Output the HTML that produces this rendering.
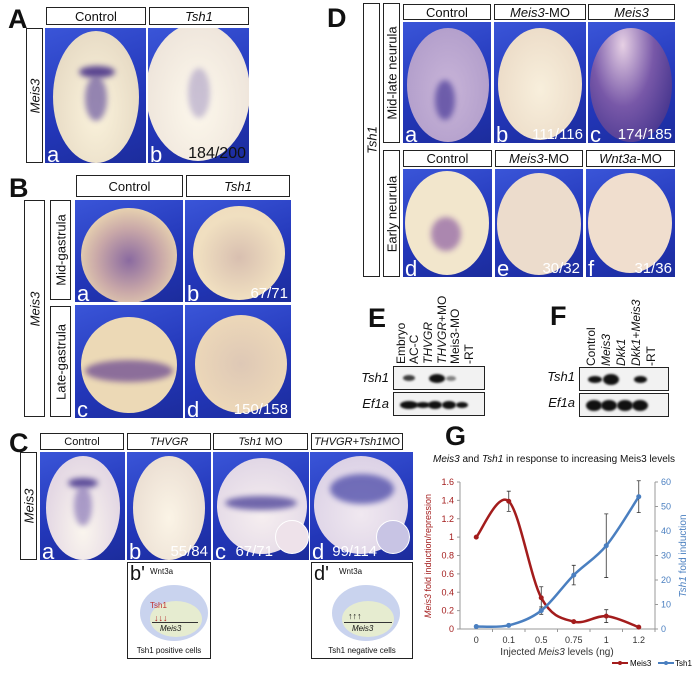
<!DOCTYPE html>
<html><head><meta charset="utf-8">
<style>
*{margin:0;padding:0;box-sizing:border-box}
body{width:692px;height:676px;background:#fff;position:relative;overflow:hidden;font-family:"Liberation Sans","DejaVu Sans",sans-serif;color:#111}
.abs{position:absolute}
.L{position:absolute;font-weight:bold;font-size:27px;line-height:1;font-family:"Liberation Sans",sans-serif}
.hd{position:absolute;border:1.5px solid #222;background:#fff;text-align:center;font-size:13px;display:flex;align-items:center;justify-content:center}
.vb{position:absolute;border:1.5px solid #222;background:#fff}
.vb span{position:absolute;left:50%;top:50%;transform:translate(-50%,-50%) rotate(-90deg);white-space:nowrap;font-size:13px}
.ph{position:absolute;overflow:hidden;background:linear-gradient(160deg,#3a55d8,#2236b8 60%,#1c2c9c)}
.emb{position:absolute;border-radius:50%}
.st{position:absolute;border-radius:50%;filter:blur(3px)}
.lt{position:absolute;left:2px;bottom:-3px;color:#fff;font-size:22px;line-height:1}
.ct{position:absolute;right:3px;bottom:1px;color:#fff;font-size:15px;line-height:1}
.gel{position:absolute;border:1.5px solid #222;background:#f2f2f2}
.band{position:absolute;border-radius:50%;background:#111;filter:blur(1px)}
.rl{position:absolute;transform-origin:left bottom;transform:rotate(-90deg);white-space:nowrap;font-size:12px}
.rt{position:absolute;text-align:right;font-size:13px;width:40px}
i{font-style:italic}
</style></head><body>

<!-- Panel A -->
<div class="L" style="left:8px;top:6px">A</div>
<div class="hd" style="left:46px;top:7px;width:100px;height:18px">Control</div>
<div class="hd" style="left:149px;top:7px;width:100px;height:18px"><i>Tsh1</i></div>
<div class="vb" style="left:26px;top:28px;width:17px;height:135px"><span><i>Meis3</i></span></div>
<div class="ph" style="left:45px;top:28px;width:101px;height:135px">
 <div class="emb" style="left:8px;top:3px;width:86px;height:132px;background:radial-gradient(ellipse at 50% 60%,#fbf3dc,#e8dcc6 70%,#cfc3c8)"></div>
 <div class="st" style="left:34px;top:38px;width:36px;height:12px;background:#5a4590"></div>
 <div class="st" style="left:40px;top:48px;width:22px;height:45px;background:#6b58a0;opacity:.7"></div>
 <div class="lt">a</div></div>
<div class="ph" style="left:148px;top:28px;width:101px;height:135px">
 <div class="emb" style="left:-2px;top:-5px;width:104px;height:138px;background:radial-gradient(ellipse at 50% 60%,#fdf8ec,#efe6dc 70%,#d6cfd8)"></div>
 <div class="st" style="left:40px;top:40px;width:22px;height:50px;background:#a89cc4;opacity:.6"></div>
 <div class="lt">b</div><div class="ct" style="color:#111;font-size:16px">184/200</div></div>

<!-- Panel B -->
<div class="L" style="left:9px;top:175px">B</div>
<div class="hd" style="left:76px;top:175px;width:107px;height:22px">Control</div>
<div class="hd" style="left:186px;top:175px;width:104px;height:22px"><i>Tsh1</i></div>
<div class="vb" style="left:24px;top:200px;width:21px;height:217px"><span><i>Meis3</i></span></div>
<div class="vb" style="left:50px;top:200px;width:21px;height:100px"><span>Mid-gastrula</span></div>
<div class="vb" style="left:50px;top:306px;width:21px;height:111px"><span>Late-gastrula</span></div>
<div class="ph" style="left:75px;top:200px;width:108px;height:102px">
 <div class="emb" style="left:6px;top:8px;width:96px;height:95px;background:radial-gradient(circle at 50% 55%,#8a6aa0,#c9a8a8 45%,#e8d3b0 75%)"></div>
 <div class="lt">a</div></div>
<div class="ph" style="left:185px;top:200px;width:106px;height:102px">
 <div class="emb" style="left:8px;top:6px;width:92px;height:94px;background:radial-gradient(circle at 50% 55%,#d8bfb0,#f0dfc0 60%,#eedcbc)"></div>
 <div class="lt">b</div><div class="ct">67/71</div></div>
<div class="ph" style="left:75px;top:305px;width:108px;height:113px">
 <div class="emb" style="left:6px;top:12px;width:96px;height:96px;background:#ecd9b6"></div>
 <div class="st" style="left:10px;top:55px;width:88px;height:22px;background:#7c5c96;opacity:.85"></div>
 <div class="lt">c</div></div>
<div class="ph" style="left:185px;top:305px;width:106px;height:113px">
 <div class="emb" style="left:10px;top:10px;width:92px;height:98px;background:radial-gradient(circle at 50% 50%,#dec8b6,#ecd7b8 70%)"></div>
 <div class="lt">d</div><div class="ct">150/158</div></div>

<!-- Panel C -->
<div class="L" style="left:9px;top:430px">C</div>
<div class="hd" style="left:40px;top:433px;width:84px;height:17px;font-size:11px">Control</div>
<div class="hd" style="left:127px;top:433px;width:84px;height:17px;font-size:11px"><i>THVGR</i></div>
<div class="hd" style="left:213px;top:433px;width:95px;height:17px;font-size:11px"><i>Tsh1</i>&nbsp;MO</div>
<div class="hd" style="left:311px;top:433px;width:92px;height:17px;font-size:11px"><i>THVGR+Tsh1</i>MO</div>
<div class="vb" style="left:20px;top:452px;width:17px;height:108px"><span><i>Meis3</i></span></div>
<div class="ph" style="left:40px;top:452px;width:85px;height:108px">
 <div class="emb" style="left:6px;top:4px;width:74px;height:104px;background:radial-gradient(ellipse at 50% 70%,#fbf6ee,#e4d8e4 70%)"></div>
 <div class="st" style="left:28px;top:26px;width:30px;height:10px;background:#5a4a98"></div>
 <div class="st" style="left:34px;top:34px;width:18px;height:40px;background:#8a78b8;opacity:.7"></div>
 <div class="lt">a</div></div>
<div class="ph" style="left:127px;top:452px;width:84px;height:108px">
 <div class="emb" style="left:6px;top:4px;width:72px;height:104px;background:radial-gradient(ellipse at 50% 60%,#fbf4e6,#ece0d4 70%)"></div>
 <div class="lt">b</div><div class="ct">55/84</div></div>
<div class="ph" style="left:213px;top:452px;width:96px;height:108px">
 <div class="emb" style="left:4px;top:6px;width:90px;height:96px;background:radial-gradient(circle at 50% 60%,#f6eef0,#e2d8e6 75%)"></div>
 <div class="st" style="left:12px;top:44px;width:72px;height:14px;background:#5a50a0;opacity:.85"></div>
 <div class="emb" style="left:62px;top:68px;width:34px;height:34px;background:#eee2ea;border:1px solid #fff"></div>
 <div class="lt">c</div><div class="ct" style="right:36px">67/71</div></div>
<div class="ph" style="left:310px;top:452px;width:103px;height:108px">
 <div class="emb" style="left:4px;top:4px;width:94px;height:98px;background:radial-gradient(circle at 50% 60%,#f0e8f0,#dcd2e6 75%)"></div>
 <div class="st" style="left:20px;top:22px;width:64px;height:30px;background:#4a48a8;opacity:.75"></div>
 <div class="emb" style="left:66px;top:68px;width:34px;height:34px;background:#c8c4e4;border:1px solid #fff"></div>
 <div class="lt">d</div><div class="ct" style="right:36px">99/114</div></div>

<div class="abs" style="left:127px;top:562px;width:84px;height:97px;border:1.5px solid #222">
 <div class="abs" style="left:2px;top:0;font-size:20px">b'</div>
 <div class="abs" style="left:22px;top:4px;font-size:8px">Wnt3a</div>
 <div class="emb" style="left:12px;top:22px;width:68px;height:56px;background:#c9d3ee"></div>
 <div class="emb" style="left:22px;top:38px;width:52px;height:36px;background:#e6ecd0"></div>
 <div class="abs" style="left:22px;top:38px;font-size:8px;color:#c03030">Tsh1</div>
 <div class="abs" style="left:26px;top:50px;font-size:9px;color:#b02020">↓↓↓</div>
 <div class="abs" style="left:24px;top:59px;width:46px;height:1px;background:#333"></div>
 <div class="abs" style="left:32px;top:61px;font-size:8px"><i>Meis3</i></div>
 <div class="abs" style="left:0;width:100%;bottom:3px;text-align:center;font-size:8px">Tsh1 positive cells</div>
</div>
<div class="abs" style="left:311px;top:562px;width:102px;height:97px;border:1.5px solid #222">
 <div class="abs" style="left:2px;top:0;font-size:20px">d'</div>
 <div class="abs" style="left:27px;top:4px;font-size:8px">Wnt3a</div>
 <div class="emb" style="left:20px;top:22px;width:68px;height:56px;background:#c9d3ee"></div>
 <div class="emb" style="left:30px;top:38px;width:52px;height:36px;background:#e6ecd0"></div>
 <div class="abs" style="left:36px;top:48px;font-size:9px">↑↑↑</div>
 <div class="abs" style="left:32px;top:59px;width:48px;height:1px;background:#333"></div>
 <div class="abs" style="left:40px;top:61px;font-size:8px"><i>Meis3</i></div>
 <div class="abs" style="left:0;width:100%;bottom:3px;text-align:center;font-size:8px">Tsh1 negative cells</div>
</div>

<!-- Panel D -->
<div class="L" style="left:327px;top:5px">D</div>
<div class="vb" style="left:363px;top:3px;width:17px;height:274px"><span><i>Tsh1</i></span></div>
<div class="vb" style="left:383px;top:3px;width:17px;height:140px"><span>Mid-late neurula</span></div>
<div class="vb" style="left:383px;top:150px;width:17px;height:127px"><span>Early neurula</span></div>
<div class="hd" style="left:403px;top:4px;width:88px;height:16px">Control</div>
<div class="hd" style="left:494px;top:4px;width:92px;height:16px"><i>Meis3</i>-MO</div>
<div class="hd" style="left:588px;top:4px;width:87px;height:16px"><i>Meis3</i></div>
<div class="hd" style="left:403px;top:150px;width:89px;height:17px">Control</div>
<div class="hd" style="left:495px;top:150px;width:88px;height:17px"><i>Meis3</i>-MO</div>
<div class="hd" style="left:586px;top:150px;width:89px;height:17px"><i>Wnt3a</i>-MO</div>
<div class="ph" style="left:403px;top:22px;width:88px;height:121px">
 <div class="emb" style="left:4px;top:6px;width:82px;height:114px;background:radial-gradient(ellipse at 50% 55%,#c8b4d8,#b4a0cc 70%)"></div>
 <div class="st" style="left:32px;top:58px;width:20px;height:40px;background:#5848a0;opacity:.8"></div>
 <div class="lt">a</div></div>
<div class="ph" style="left:494px;top:22px;width:92px;height:121px">
 <div class="emb" style="left:4px;top:6px;width:84px;height:112px;background:radial-gradient(ellipse at 50% 55%,#f8efdc,#ecdcc8 75%)"></div>
 <div class="lt">b</div><div class="ct">111/116</div></div>
<div class="ph" style="left:588px;top:22px;width:87px;height:121px">
 <div class="emb" style="left:2px;top:6px;width:82px;height:114px;background:radial-gradient(ellipse at 40% 15%,#e6d0e4,#7858a8 45%,#4a3890 80%)"></div>
 <div class="lt">c</div><div class="ct">174/185</div></div>
<div class="ph" style="left:403px;top:169px;width:89px;height:108px">
 <div class="emb" style="left:2px;top:2px;width:84px;height:104px;background:#f2e6cc"></div>
 <div class="st" style="left:28px;top:48px;width:30px;height:34px;background:#9a70a8;opacity:.8"></div>
 <div class="lt">d</div></div>
<div class="ph" style="left:495px;top:169px;width:88px;height:108px">
 <div class="emb" style="left:2px;top:4px;width:84px;height:102px;background:#ecdccc"></div>
 <div class="lt">e</div><div class="ct">30/32</div></div>
<div class="ph" style="left:586px;top:169px;width:89px;height:108px">
 <div class="emb" style="left:2px;top:4px;width:84px;height:100px;background:#f0dece"></div>
 <div class="lt">f</div><div class="ct">31/36</div></div>

<!-- Panel E -->
<div class="L" style="left:368px;top:305px">E</div>
<div class="rl" style="left:408px;top:350px">Embryo</div>
<div class="rl" style="left:421px;top:350px">AC-C</div>
<div class="rl" style="left:435px;top:350px"><i>THVGR</i></div>
<div class="rl" style="left:449px;top:350px"><i>THVGR</i>+MO</div>
<div class="rl" style="left:462px;top:350px">Meis3-MO</div>
<div class="rl" style="left:476px;top:350px">-RT</div>
<div class="rt" style="left:349px;top:370px"><i>Tsh1</i></div>
<div class="rt" style="left:349px;top:396px"><i>Ef1a</i></div>
<div class="gel" style="left:393px;top:366px;width:92px;height:24px">
 <div class="band" style="left:9px;top:8px;width:12px;height:6px;opacity:.8"></div>
 <div class="band" style="left:35px;top:7px;width:16px;height:9px"></div>
 <div class="band" style="left:52px;top:9px;width:10px;height:5px;opacity:.5"></div></div>
<div class="gel" style="left:393px;top:392px;width:92px;height:24px">
 <div class="band" style="left:6px;top:8px;width:18px;height:8px"></div>
 <div class="band" style="left:22px;top:9px;width:14px;height:6px"></div>
 <div class="band" style="left:34px;top:8px;width:14px;height:8px"></div>
 <div class="band" style="left:48px;top:8px;width:14px;height:8px"></div>
 <div class="band" style="left:62px;top:9px;width:12px;height:6px"></div></div>

<!-- Panel F -->
<div class="L" style="left:550px;top:303px">F</div>
<div class="rl" style="left:598px;top:352px">Control</div>
<div class="rl" style="left:613px;top:352px"><i>Meis3</i></div>
<div class="rl" style="left:628px;top:352px"><i>Dkk1</i></div>
<div class="rl" style="left:643px;top:352px"><i>Dkk1</i>+<i>Meis3</i></div>
<div class="rl" style="left:658px;top:352px">-RT</div>
<div class="rt" style="left:535px;top:369px"><i>Tsh1</i></div>
<div class="rt" style="left:535px;top:395px"><i>Ef1a</i></div>
<div class="gel" style="left:579px;top:367px;width:90px;height:24px">
 <div class="band" style="left:8px;top:8px;width:14px;height:7px"></div>
 <div class="band" style="left:23px;top:6px;width:16px;height:11px"></div>
 <div class="band" style="left:54px;top:8px;width:13px;height:7px"></div></div>
<div class="gel" style="left:579px;top:393px;width:90px;height:24px">
 <div class="band" style="left:6px;top:6px;width:16px;height:11px"></div>
 <div class="band" style="left:21px;top:6px;width:16px;height:11px"></div>
 <div class="band" style="left:37px;top:6px;width:16px;height:11px"></div>
 <div class="band" style="left:52px;top:6px;width:16px;height:11px"></div></div>

<!-- Panel G -->
<div class="L" style="left:445px;top:423px">G</div>
<svg id="chart" class="abs" style="left:0;top:0" width="692" height="676" xmlns="http://www.w3.org/2000/svg"></svg>

<script>
const categories = ["0","0.1","0.5","0.75","1","1.2"];
const meis3Values = [1.0, 1.39, 0.34, 0.08, 0.14, 0.02];
const meis3Errors = [0, 0.11, 0.12, 0.01, 0.07, 0.0];
const tsh1Values = [1, 1.5, 7.5, 22, 34, 54];
const tsh1Errors = [0, 0, 1.5, 4, 13, 6.5];
const leftTicks = ["0","0.2","0.4","0.6","0.8","1","1.2","1.4","1.6"];
const rightTicks = ["0","10","20","30","40","50","60"];

const svg = document.getElementById('chart');
const NS = "http://www.w3.org/2000/svg";
const X0 = 460, X1 = 655, Y0 = 629, Y1 = 482;
const LMAX = 1.6, RMAX = 60;
const step = (X1 - X0) / categories.length;
const xPos = i => X0 + step * (i + 0.5);
const yL = v => Y0 - (v / LMAX) * (Y0 - Y1);
const yR = v => Y0 - (v / RMAX) * (Y0 - Y1);
const RED = "#a31c1c", BLUE = "#4a7fc0";

function mk(tag, attrs, parent) {
  const el = document.createElementNS(NS, tag);
  for (const k in attrs) el.setAttribute(k, attrs[k]);
  (parent || svg).appendChild(el);
  return el;
}
function txt(str, x, y, attrs) {
  const t = mk('text', Object.assign({x: x, y: y, 'font-family': 'Liberation Sans, sans-serif', 'font-size': 9}, attrs));
  t.textContent = str;
  return t;
}

let a = mk('line', {x1: X0, y1: Y1, x2: X0, y2: Y0, stroke: '#999'});


a = mk('line', {x1: X1, y1: Y1, x2: X1, y2: Y0, stroke: '#999'});


a = mk('line', {x1: X0, y1: Y0, x2: X1, y2: Y0, stroke: '#999'});



leftTicks.forEach(s => {
  const y = yL(parseFloat(s));
  mk('line', {x1: X0 - 3, y1: y, x2: X0, y2: y, stroke: '#999'});
  const t = txt(s, X0 - 6, y + 3, {'text-anchor': 'end', fill: RED});
  
  
});
rightTicks.forEach(s => {
  const y = yR(parseFloat(s));
  mk('line', {x1: X1, y1: y, x2: X1 + 3, y2: y, stroke: '#999'});
  const t = txt(s, X1 + 6, y + 3, {fill: BLUE});
  
  
});
categories.forEach((c, i) => {
  mk('line', {x1: X0 + step * (i + 1), y1: Y0, x2: X0 + step * (i + 1), y2: Y0 + 3, stroke: '#999'});
  const t = txt(c, xPos(i), Y0 + 14, {'text-anchor': 'middle', fill: '#333'});
  
  
});

function smoothPath(pts) {
  let d = `M${pts[0][0]},${pts[0][1]}`;
  for (let i = 0; i < pts.length - 1; i++) {
    const p0 = pts[Math.max(0, i - 1)], p1 = pts[i], p2 = pts[i + 1], p3 = pts[Math.min(pts.length - 1, i + 2)];
    const c1 = [p1[0] + (p2[0] - p0[0]) / 6, p1[1] + (p2[1] - p0[1]) / 6];
    const c2 = [p2[0] - (p3[0] - p1[0]) / 6, p2[1] - (p3[1] - p1[1]) / 6];
    d += ` C${c1[0]},${c1[1]} ${c2[0]},${c2[1]} ${p2[0]},${p2[1]}`;
  }
  return d;
}
function series(vals, errs, yf, color, name) {
  const pts = vals.map((v, i) => [xPos(i), yf(v)]);
  const p = mk('path', {d: smoothPath(pts), fill: 'none', stroke: color, 'stroke-width': 2.5});
  
  
  vals.forEach((v, i) => {
    if (errs[i] > 0) {
      const e = mk('path', {d: `M${xPos(i)},${yf(v + errs[i])}V${yf(v - errs[i])}M${xPos(i)-2},${yf(v + errs[i])}h4M${xPos(i)-2},${yf(v - errs[i])}h4`, stroke: '#333', 'stroke-width': 0.8, fill: 'none'});
      
      
    }
    const c = mk('circle', {cx: xPos(i), cy: yf(v), r: 2.5, fill: color});
    
    
  });
}
series(meis3Values, meis3Errors, yL, RED, 'meis3');
series(tsh1Values, tsh1Errors, yR, BLUE, 'tsh1');

let t = txt('', 433, 462, {'font-size': 10, fill: '#111'});
t.innerHTML = '<tspan font-style="italic">Meis3</tspan> and <tspan font-style="italic">Tsh1</tspan> in response to increasing Meis3 levels';



t = txt('', 431, 556, {'font-size': 9, fill: RED, 'text-anchor': 'middle', transform: 'rotate(-90 431 556)'});
t.innerHTML = '<tspan font-style="italic">Meis3</tspan> fold induction/repression';



t = txt('', 686, 556, {'font-size': 10, fill: BLUE, 'text-anchor': 'middle', transform: 'rotate(-90 686 556)'});
t.innerHTML = '<tspan font-style="italic">Tsh1</tspan> fold induction';



t = txt('', 557, 655, {'font-size': 10, fill: '#333', 'text-anchor': 'middle'});
t.innerHTML = 'Injected <tspan font-style="italic">Meis3</tspan> levels (ng)';



let g = mk('g', {});


mk('line', {x1: 612, y1: 663, x2: 628, y2: 663, stroke: RED, 'stroke-width': 2}, g);
mk('circle', {cx: 620, cy: 663, r: 2, fill: RED}, g);
const lt1 = mk('text', {x: 630, y: 666, 'font-size': 8, 'font-family': 'Liberation Sans, sans-serif'}, g);
lt1.textContent = 'Meis3';
g = mk('g', {});


mk('line', {x1: 658, y1: 663, x2: 674, y2: 663, stroke: BLUE, 'stroke-width': 2}, g);
mk('circle', {cx: 666, cy: 663, r: 2, fill: BLUE}, g);
const lt2 = mk('text', {x: 675, y: 666, 'font-size': 8, 'font-family': 'Liberation Sans, sans-serif'}, g);
lt2.textContent = 'Tsh1';
</script>
</body></html>
